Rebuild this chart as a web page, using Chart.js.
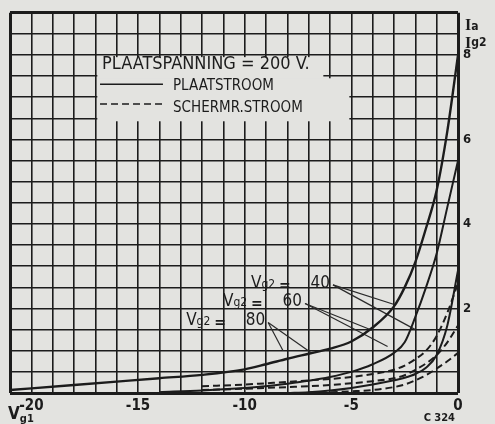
<!DOCTYPE html>
<html>
<head>
<meta charset="utf-8">
<script src="https://cdn.jsdelivr.net/npm/chart.js@4.4.1/dist/chart.umd.min.js"></script>
<style>
  html, body { margin: 0; padding: 0; background: #e3e3e0; }
  canvas { display: block; }
</style>
</head>
<body>
<canvas id="buis" width="495" height="424"></canvas>
<script>
/* roosterspanning Vg1 (V) */
const vg1 = [-21, -20, -18, -16, -14, -12, -10, -9, -8, -7, -6, -5, -4, -3, -2.5, -2, -1.5, -1, -0.5, 0];

/* plaatstroom Ia (mA) bij Vg2 = 80 / 60 / 40 */
const ia80 = [0.07, 0.11, 0.19, 0.27, 0.35, 0.43, 0.56, 0.68, 0.81, 0.93, 1.05, 1.22, 1.55, 2.05, 2.5, 3.1, 3.9, 4.8, 6.2, 8.0];
const ia60 = [null, null, null, null, 0.02, 0.06, 0.12, 0.16, 0.22, 0.29, 0.38, 0.5, 0.68, 0.95, 1.2, 1.8, 2.5, 3.3, 4.4, 5.5];
const ia40 = [null, null, null, null, null, null, null, null, 0, 0.02, 0.06, 0.12, 0.2, 0.3, 0.36, 0.45, 0.6, 0.9, 1.6, 2.9];

/* schermroosterstroom Ig2 (mA) */
const ig80 = [null, null, null, null, null, 0.16, 0.2, 0.23, 0.26, 0.3, 0.33, 0.38, 0.45, 0.55, 0.65, 0.8, 1.0, 1.35, 1.9, 2.6];
const ig60 = [null, null, null, null, null, 0.07, 0.1, 0.12, 0.14, 0.16, 0.19, 0.23, 0.28, 0.35, 0.42, 0.55, 0.7, 0.9, 1.2, 1.6];
const ig40 = [null, null, null, null, null, null, null, null, null, 0.01, 0.02, 0.04, 0.07, 0.14, 0.2, 0.3, 0.42, 0.58, 0.75, 0.95];

/* Vg2 labels with their leader lines */
const vg2Labels = ["40", "60", "80"];
const leaderStart = [[-5.86, 2.56], [-7.17, 2.12], [-8.9, 1.67]];
const leaderEnds = [
  [[-2.95, 2.09], [-2.0, 1.5]],
  [[-4.0, 1.48], [-3.3, 1.1]],
  [[-8.2, 1.0], [-6.9, 0.96]],
];

const xTickLabels = [-20, -15, -10, -5, 0];
const yTickLabels = [2, 4, 6, 8];

const INK = "#1c1c1c";
const PAPER = "#e3e3e0";

function series(ys) {
  return vg1.map((x, i) => ({ x: x, y: ys[i] }));
}

function curve(ys, dashed, width) {
  return {
    data: series(ys),
    borderColor: INK,
    borderWidth: width,
    borderDash: dashed ? [7, 4] : [],
    pointRadius: 0,
    cubicInterpolationMode: "monotone",
    spanGaps: false,
  };
}

const datasets = [
  curve(ia80, false, 2.4),
  curve(ia60, false, 2),
  curve(ia40, false, 2),
  curve(ig80, true, 2),
  curve(ig60, true, 2),
  curve(ig40, true, 2),
];

leaderStart.forEach((s, i) => {
  leaderEnds[i].forEach((e) => {
    datasets.push({
      data: [{ x: s[0], y: s[1] }, { x: e[0], y: e[1] }],
      borderColor: "#2a2a2a",
      borderWidth: 1.2,
      pointRadius: 0,
    });
  });
});

function withSub(ctx, main, sub, x, y, mainFont, subFont, dy) {
  ctx.font = mainFont;
  ctx.fillText(main, x, y);
  const w = ctx.measureText(main).width;
  ctx.font = subFont;
  ctx.fillText(sub, x + w, y + dy);
}

const annotations = {
  id: "annotations",
  beforeDraw(chart) {
    const ctx = chart.ctx;
    ctx.save();
    ctx.fillStyle = PAPER;
    ctx.fillRect(0, 0, chart.width, chart.height);
    ctx.restore();
  },
  beforeDatasetsDraw(chart) {
    const ctx = chart.ctx;
    const xs = chart.scales.x, ys = chart.scales.y;
    const x0 = xs.getPixelForValue(-17) + 2;
    ctx.save();
    ctx.fillStyle = PAPER;
    ctx.fillRect(x0, ys.getPixelForValue(7.95), 226, 22);
    ctx.fillRect(x0, ys.getPixelForValue(7.45), 252, 43);
    ctx.restore();
  },
  afterDatasetsDraw(chart) {
    const ctx = chart.ctx;
    const xs = chart.scales.x, ys = chart.scales.y;
    const area = chart.chartArea;
    const px = (v) => xs.getPixelForValue(v);
    const py = (v) => ys.getPixelForValue(v);
    ctx.save();
    ctx.fillStyle = INK;
    ctx.strokeStyle = INK;
    ctx.textBaseline = "alphabetic";
    ctx.textAlign = "left";

    // legend block
    ctx.font = "18px 'DejaVu Sans Condensed', 'Liberation Sans Narrow', sans-serif";
    ctx.fillText("PLAATSPANNING = 200 V.", px(-16.69), py(7.66), 218);
    ctx.lineWidth = 1.6;
    ctx.beginPath();
    ctx.moveTo(px(-16.78), py(7.31));
    ctx.lineTo(px(-13.83), py(7.31));
    ctx.stroke();
    ctx.setLineDash([7, 4]);
    ctx.beginPath();
    ctx.moveTo(px(-16.78), py(6.84));
    ctx.lineTo(px(-13.83), py(6.84));
    ctx.stroke();
    ctx.setLineDash([]);
    ctx.font = "15px 'DejaVu Sans Condensed', 'Liberation Sans Narrow', sans-serif";
    ctx.fillText("PLAATSTROOM", px(-13.36), py(7.17), 139);
    ctx.fillText("SCHERMR.STROOM", px(-13.36), py(6.65), 172);

    // Vg2 labels
    leaderStart.forEach((s, i) => {
      const sx = px(s[0]), sy = py(s[1]) + 3;
      withSub(ctx, "V", "g2", sx - 82, sy, "17px 'DejaVu Sans Condensed', sans-serif",
        "12px 'DejaVu Sans Condensed', sans-serif", 0);
      ctx.font = "bold 14px 'DejaVu Sans', sans-serif";
      ctx.fillText("=", sx - 54, sy + 2);
      ctx.font = "17px 'DejaVu Sans Condensed', sans-serif";
      ctx.textAlign = "right";
      ctx.fillText(vg2Labels[i], sx - 3, sy);
      ctx.textAlign = "left";
    });

    // axis titles
    withSub(ctx, "V", "g1", area.left - 2, area.bottom + 26,
      "bold 17px 'DejaVu Sans Condensed', sans-serif", "bold 11px 'DejaVu Sans Condensed', sans-serif", 3);
    withSub(ctx, "I", "a", area.right + 7, area.top + 17,
      "bold 16px 'Liberation Serif', serif", "bold 12px 'DejaVu Sans Condensed', sans-serif", 0);
    withSub(ctx, "I", "g2", area.right + 7, area.top + 35,
      "bold 16px 'Liberation Serif', serif", "bold 12px 'DejaVu Sans Condensed', sans-serif", -2);
    ctx.font = "bold 11px 'DejaVu Sans Condensed', sans-serif";
    ctx.textAlign = "right";
    ctx.fillText("C 324", area.right - 3, area.bottom + 28);
    ctx.restore();
  },
};

const edge = (v, lo, hi) => (v === lo || v === hi ? 3 : 1.6);

new Chart(document.getElementById("buis"), {
  type: "line",
  data: { datasets: datasets },
  plugins: [annotations],
  options: {
    responsive: false,
    animation: false,
    events: [],
    layout: { padding: { left: 10, top: 10, right: 0, bottom: 0 } },
    plugins: { legend: { display: false }, tooltip: { enabled: false } },
    scales: {
      x: {
        type: "linear",
        min: -21,
        max: 0,
        afterFit(scale) { scale.height = 31; },
        border: { display: false },
        grid: {
          color: INK,
          lineWidth: (c) => edge(c.tick && c.tick.value, -21, 0),
          drawTicks: false,
        },
        ticks: {
          stepSize: 1,
          autoSkip: false,
          maxRotation: 0,
          padding: 4,
          color: INK,
          font: { family: "'Liberation Sans Narrow', 'DejaVu Sans Condensed', sans-serif", size: 15, weight: "bold" },
          callback: (v) => (xTickLabels.includes(v) ? String(v) : ""),
        },
      },
      y: {
        position: "right",
        min: 0,
        max: 9,
        afterFit(scale) { scale.width = 37; },
        border: { display: false },
        grid: {
          color: INK,
          lineWidth: (c) => edge(c.tick && c.tick.value, 0, 9),
          drawTicks: false,
        },
        ticks: {
          stepSize: 0.5,
          autoSkip: false,
          padding: 5,
          color: INK,
          font: { family: "'DejaVu Sans Condensed', sans-serif", size: 13, weight: "bold" },
          callback: (v) => (yTickLabels.includes(v) ? String(v) : ""),
        },
      },
    },
  },
});
</script>
</body>
</html>
